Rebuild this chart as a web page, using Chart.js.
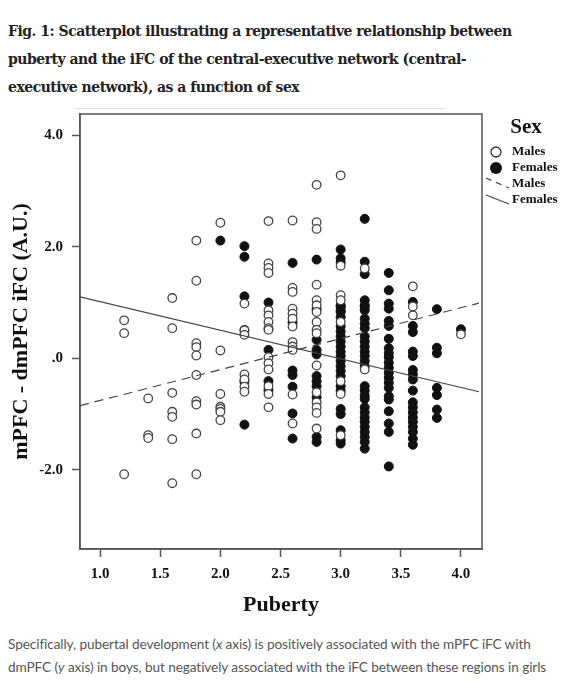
<html>
<head>
<script src="https://cdn.jsdelivr.net/npm/chart.js@4.4.0/dist/chart.umd.min.js"></script>
<style>
body { margin: 0; background: #fff; width: 567px; height: 682px; position: relative; overflow: hidden; }
#title { position: absolute; left: 8px; top: 17px; font-family: "DejaVu Serif", serif; font-weight: bold; font-size: 14px; letter-spacing: -0.5px; line-height: 28px; color: #222; white-space: nowrap; }
#rule { position: absolute; left: 75px; top: 108px; width: 370px; height: 1px; background: #ddd; }
#plot { position: absolute; left: 0; top: 96px; }
#caption { position: absolute; left: 8px; top: 633px; font-family: Lato, sans-serif; font-size: 13.6px; letter-spacing: -0.08px; line-height: 23px; color: #555; white-space: nowrap; }
</style>
</head>
<body>
<div id="title">Fig. 1: Scatterplot illustrating a representative relationship between<br>puberty and the iFC of the central-executive network (central-<br>executive network), as a function of sex</div>
<div id="rule"></div>
<canvas id="plot" width="567" height="529"></canvas>
<div id="caption">Specifically, pubertal development (<i>x</i> axis) is positively associated with the mPFC iFC with<br>dmPFC (<i>y</i> axis) in boys, but negatively associated with the iFC between these regions in girls</div>
<script>
// puberty score columns and the iFC values
const pubertyLevels = [1.2, 1.4, 1.6, 1.8, 2.0, 2.2, 2.4, 2.6, 2.8, 3.0, 3.2, 3.4, 3.6, 3.8, 4.0];

const maleIFC = [
    [0.68, 0.45, -2.08],
    [-0.72, -1.38, -1.43],
    [1.08, 0.54, -0.62, -0.96, -1.05, -1.45, -2.24],
    [2.11, 1.39, 0.27, 0.20, 0.05, -0.30, -0.77, -0.83, -1.35, -2.08],
    [2.43, 0.14, -0.64, -0.87, -0.91, -0.96, -1.11],
    [0.98, 0.51, 0.50, 0.42, -0.29, -0.38, -0.51, -0.60],
    [2.46, 1.70, 1.62, 1.53, 0.86, 0.77, 0.65, 0.54, 0.51, 0.02, -0.09, -0.20, -0.50, -0.64, -0.88],
    [2.47, 1.26, 1.19, 0.89, 0.80, 0.71, 0.57, 0.29, 0.21, 0.15, -0.65, -1.17],
    [3.11, 2.44, 2.32, 1.32, 1.04, 0.95, 0.83, 0.65, 0.51, 0.45, -0.13, -0.61, -0.79, -0.88, -0.98, -1.26],
    [3.28, 1.66, 1.13, 1.04, 0.65, -0.41, -0.64, -1.38],
    [1.61, -0.20],
    [],
    [1.29, 0.93, 0.77],
    [],
    [0.43]
];

const femaleIFC = [
    [],
    [],
    [],
    [],
    [2.11],
    [2.01, 1.82, 1.11, -0.42, -1.19],
    [1.00, 0.15, -0.41, -0.57],
    [1.71, 0.64, -0.22, -0.30, -0.51, -0.99, -1.44],
    [1.77, 0.88, 0.33, 0.15, 0.07, -0.32, -0.41, -0.50, -0.70, -1.41, -1.50],
    [1.95, 1.79, 1.72, 0.95, 0.92, 0.86, 0.83, 0.74, 0.57, 0.48, 0.39, 0.30, 0.21, 0.12, 0.04, -0.05, -0.14, -0.23, -0.32, -0.50, -0.58, -0.91, -1.00, -1.29, -1.47, -1.53],
    [2.50, 1.73, 1.51, 1.04, 0.95, 0.92, 0.86, 0.71, 0.62, 0.54, 0.39, 0.30, 0.21, 0.12, 0.04, -0.05, -0.14, -0.50, -0.58, -0.67, -0.73, -0.88, -0.97, -1.06, -1.14, -1.23, -1.32, -1.41, -1.50, -1.62],
    [1.53, 1.22, 0.98, 0.89, 0.67, 0.58, 0.35, 0.18, 0.09, 0.02, -0.08, -0.17, -0.26, -0.35, -0.44, -0.53, -0.68, -0.74, -0.95, -1.17, -1.32, -1.94],
    [1.01, 0.58, 0.47, 0.12, 0.04, -0.21, -0.29, -0.38, -0.58, -0.79, -0.88, -0.97, -1.06, -1.14, -1.23, -1.32, -1.44, -1.55],
    [0.88, 0.19, 0.09, -0.53, -0.66, -0.92, -1.07],
    [0.52]
];

// fit line end points
const fitX = [0.833, 4.15];
const maleFitY = [-0.85, 0.99];
const femaleFitY = [1.10, -0.60];

const xTicks = [1.0, 1.5, 2.0, 2.5, 3.0, 3.5, 4.0];
const yTicks = [-2.0, 0.0, 2.0, 4.0];

const toPoints = (groups) => groups.flatMap((vals, i) => vals.map(v => ({ x: pubertyLevels[i], y: v })));
const lineOf = (ys) => fitX.map((x, i) => ({ x: x, y: ys[i] }));

const SERIF = "'Liberation Serif', 'Times New Roman', serif";
const INK = "#444";

// box round the plot area
const frame = {
    id: "frame",
    beforeDatasetsDraw(chart) {
        const a = chart.chartArea, c = chart.ctx;
        c.save();
        c.strokeStyle = "#555";
        c.lineWidth = 1.5;
        c.strokeRect(a.left, a.top, a.right - a.left, a.bottom - a.top);
        c.restore();
    }
};

// SPSS style legend on the right (canvas starts at page y 96)
const sexLegend = {
    id: "sexLegend",
    afterDraw(chart) {
        const c = chart.ctx;
        c.save();
        c.fillStyle = "#111";
        c.textBaseline = "middle";
        c.textAlign = "center";
        c.font = "bold 21px " + SERIF;
        c.fillText("Sex", 526, 32);

        c.textAlign = "left";
        c.font = "bold 13px " + SERIF;

        c.beginPath();
        c.arc(496, 56, 5, 0, Math.PI * 2);
        c.fillStyle = "#fff";
        c.fill();
        c.strokeStyle = "#333";
        c.lineWidth = 1.3;
        c.stroke();
        c.fillStyle = "#111";
        c.fillText("Males", 512, 56);

        c.beginPath();
        c.arc(496, 72, 6, 0, Math.PI * 2);
        c.fill();
        c.fillText("Females", 512, 72);

        c.strokeStyle = INK;
        c.lineWidth = 1.2;
        c.setLineDash([6, 5]);
        c.beginPath();
        c.moveTo(486, 82);
        c.lineTo(509, 92);
        c.stroke();
        c.fillText("Males", 512, 88);

        c.setLineDash([]);
        c.beginPath();
        c.moveTo(486, 99);
        c.lineTo(509, 108);
        c.stroke();
        c.fillText("Females", 512, 104);
        c.restore();
    }
};

const axisGrid = {
    drawOnChartArea: false,
    drawTicks: true,
    tickLength: 8,
    tickColor: "#555",
    tickWidth: 1.5
};

const ctx = document.getElementById("plot").getContext("2d");
const chart = new Chart(ctx, {
    type: "scatter",
    data: {
        datasets: [
            {
                label: "Males fit",
                data: lineOf(maleFitY),
                showLine: true,
                borderColor: INK,
                borderWidth: 1.2,
                borderDash: [9, 6],
                pointRadius: 0
            },
            {
                label: "Females fit",
                data: lineOf(femaleFitY),
                showLine: true,
                borderColor: INK,
                borderWidth: 1.2,
                pointRadius: 0
            },
            {
                label: "Males",
                data: toPoints(maleIFC),
                pointRadius: 4.3,
                pointBackgroundColor: "#fff",
                pointBorderColor: "#444",
                pointBorderWidth: 1.3
            },
            {
                label: "Females",
                data: toPoints(femaleIFC),
                pointRadius: 4.5,
                pointBackgroundColor: "#111",
                pointBorderColor: "#111",
                pointBorderWidth: 1
            }
        ]
    },
    options: {
        responsive: false,
        animation: false,
        layout: { padding: { top: 6, right: 85, left: 0, bottom: 0 } },
        plugins: {
            legend: { display: false },
            tooltip: { enabled: false }
        },
        scales: {
            x: {
                type: "linear",
                min: 0.833,
                max: 4.175,
                afterBuildTicks: (s) => { s.ticks = xTicks.map(v => ({ value: v })); },
                afterFit: (s) => { s.height = 76; },
                ticks: {
                    callback: (v) => v.toFixed(1),
                    font: { family: SERIF, weight: "bold", size: 15 },
                    color: "#111",
                    padding: 8
                },
                grid: axisGrid,
                border: { color: "#555", width: 1.5 },
                title: {
                    display: true,
                    text: "Puberty",
                    font: { family: SERIF, weight: "bold", size: 22 },
                    color: "#111",
                    padding: { top: 4, bottom: 6 }
                }
            },
            y: {
                type: "linear",
                min: -3.42,
                max: 4.38,
                afterBuildTicks: (s) => { s.ticks = yTicks.map(v => ({ value: v })); },
                afterFit: (s) => { s.width = 80; },
                ticks: {
                    callback: (v) => v === 0 ? ".0" : v.toFixed(1),
                    font: { family: SERIF, weight: "bold", size: 15 },
                    color: "#111",
                    padding: 9
                },
                grid: axisGrid,
                border: { color: "#555", width: 1.5 },
                title: {
                    display: true,
                    text: "mPFC - dmPFC iFC (A.U.)",
                    font: { family: SERIF, weight: "bold", size: 22 },
                    color: "#111",
                    padding: { top: 8, bottom: 4 }
                }
            }
        }
    },
    plugins: [frame, sexLegend]
});
</script>
</body>
</html>
